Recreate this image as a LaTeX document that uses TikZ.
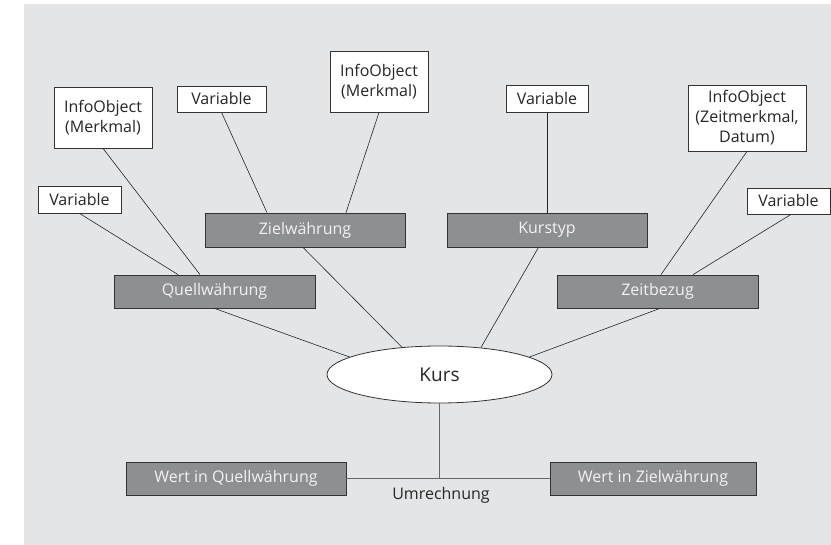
\documentclass[tikz,border=0pt]{standalone}
\usepackage{fontspec}
\setmainfont{Open Sans}
\usetikzlibrary{shapes.geometric}
\definecolor{bggray}{HTML}{E4E5E7}
\definecolor{boxgray}{HTML}{8E8F92}
\definecolor{boxline}{HTML}{333333}
\definecolor{linegray}{HTML}{666666}
\definecolor{txtlight}{HTML}{F2F2F2}
\tikzset{
  whitebox/.style={draw=boxline, fill=white, line width=0.8pt, inner sep=0pt, align=center, font=\fontsize{16}{20}\selectfont, text=black!85},
  graybox/.style={draw=boxline, fill=boxgray, line width=0.8pt, inner sep=0pt, minimum height=33pt, text=txtlight, font=\fontsize{16}{20}\selectfont},
  conn/.style={draw=black!85, line width=0.6pt},
  gconn/.style={draw=linegray, line width=1pt},
}
\begin{document}
\begin{tikzpicture}[x=1pt, y=-1pt]
\useasboundingbox (0,0) rectangle (831,545);
\fill[bggray] (24,4) rectangle (831,545);

% white boxes
\node[whitebox, minimum width=83pt, minimum height=27pt] (v1) at (79.5,199.5) {Variable};
\node[whitebox, minimum width=98pt, minimum height=61pt] (io1) at (103,117.5) {InfoObject\\(Merkmal)};
\node[whitebox, minimum width=89pt, minimum height=26pt] (v2) at (221.5,99) {Variable};
\node[whitebox, minimum width=98pt, minimum height=61pt] (io2) at (379,81.5) {InfoObject\\(Merkmal)};
\node[whitebox, minimum width=82pt, minimum height=27pt] (v3) at (547,99) {Variable};
\node[whitebox, minimum width=118pt, minimum height=66pt] (io3) at (747,118) {InfoObject\\(Zeitmerkmal,\\Datum)};
\node[whitebox, minimum width=83pt, minimum height=26pt] (v4) at (788.5,201) {Variable};

% gray boxes
\node[graybox, minimum width=200pt, minimum height=34pt] (zw) at (305,230) {Zielwährung};
\node[graybox, minimum width=200pt, minimum height=34pt] (kt) at (547,230) {Kurstyp};
\node[graybox, minimum width=201pt] (qw) at (214.5,291.5) {Quellwährung};
\node[graybox, minimum width=201pt] (zb) at (657.5,291.5) {Zeitbezug};
\node[graybox, minimum width=220pt] (wq) at (236,478.5) {Wert in Quellwährung};
\node[graybox, minimum width=206pt] (wz) at (653,478.5) {Wert in Zielwährung};

% ellipse
\node[ellipse, draw=boxline, fill=white, line width=0.8pt, minimum width=225pt, minimum height=57pt, inner sep=0pt, font=\fontsize{19}{22}\selectfont, text=black!85] (kurs) at (439.5,374.5) {Kurs};

% connectors
\draw[conn] (v1.south) -- ([xshift=-36.5pt]qw.north);
\draw[conn] (io1.south) -- ([xshift=-14.5pt]qw.north);
\draw[conn] (v2.south) -- ([xshift=-38pt]zw.north);
\draw[conn] (io2.south) -- ([xshift=41pt]zw.north);
\draw[conn] (v3.south) -- (kt.north);
\draw[conn] (io3.south) -- ([xshift=3.5pt]zb.north);
\draw[conn] ([xshift=2.5pt]v4.south) -- ([xshift=35.5pt]zb.north);

\draw[conn] (qw.south) -- (kurs.169);
\draw[conn] ([xshift=-2pt]zw.south) -- (kurs.144);
\draw[conn] ([xshift=-8.5pt]kt.south) -- (kurs.33);
\draw[conn] ([xshift=2.5pt]zb.south) -- (kurs.11);

\coordinate (j) at (439.5,478.5);
\draw[gconn] (kurs.south) -- (j);
\draw[gconn] (wq.east) -- (wz.west);
\node[font=\fontsize{16}{20}\selectfont, text=black!85, anchor=north, inner sep=0pt] (um) at (441,487.5) {Umrechnung};
\end{tikzpicture}
\end{document}
